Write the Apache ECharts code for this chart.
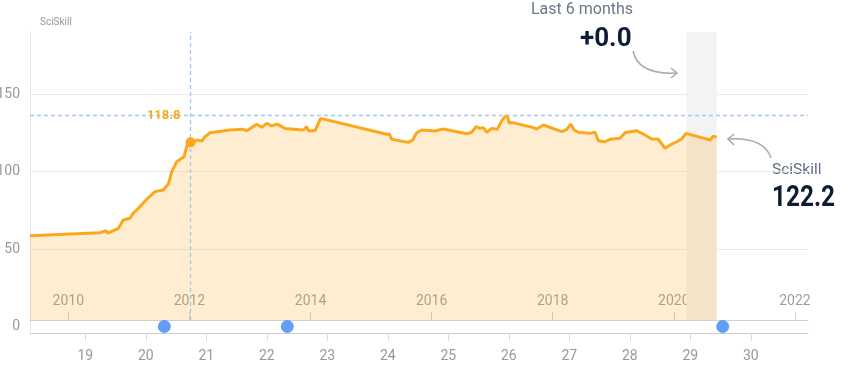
<!DOCTYPE html>
<html>
<head>
<meta charset="utf-8">
<script src="https://cdn.jsdelivr.net/npm/echarts@6/dist/echarts.min.js"></script>
<style>html,body{margin:0;padding:0;background:#fff;}#c{width:867px;height:369px;}</style>
</head>
<body>
<div id="c"></div>
<script>
// ---- data ----
const years = [2009.367, 2010.524, 2010.623, 2010.656, 2010.826, 2010.908, 2011.019, 2011.069, 2011.130, 2011.295, 2011.432, 2011.569, 2011.652, 2011.708, 2011.790, 2011.911, 2011.955, 2011.982, 2012.018, 2012.064, 2012.121, 2012.203, 2012.258, 2012.340, 2012.671, 2012.890, 2012.946, 2013.111, 2013.194, 2013.277, 2013.359, 2013.452, 2013.579, 2013.881, 2013.937, 2013.964, 2014.074, 2014.168, 2015.258, 2015.301, 2015.341, 2015.615, 2015.688, 2015.754, 2015.837, 2016.056, 2016.193, 2016.580, 2016.662, 2016.733, 2016.799, 2016.854, 2016.910, 2016.993, 2017.085, 2017.158, 2017.212, 2017.250, 2017.283, 2017.323, 2017.680, 2017.736, 2017.845, 2018.149, 2018.231, 2018.297, 2018.352, 2018.423, 2018.616, 2018.699, 2018.753, 2018.864, 2018.946, 2019.111, 2019.194, 2019.276, 2019.387, 2019.496, 2019.635, 2019.744, 2019.855, 2019.938, 2020.048, 2020.130, 2020.201, 2020.598, 2020.652, 2020.709];
const sciSkill = [58.6, 60.5, 61.8, 60.3, 63.3, 68.7, 69.8, 73.0, 75.2, 82.1, 87.0, 88.1, 91.9, 99.9, 106.3, 109.5, 116.0, 119.2, 118.8, 119.2, 120.3, 119.7, 122.5, 125.0, 126.8, 127.2, 126.3, 130.4, 128.5, 131.1, 129.4, 130.6, 127.8, 126.8, 128.9, 126.3, 126.3, 134.3, 124.0, 124.2, 120.8, 118.8, 120.3, 125.0, 126.8, 126.1, 127.4, 124.4, 125.3, 128.9, 127.8, 128.3, 125.3, 127.8, 127.2, 132.8, 135.4, 136.0, 131.1, 131.7, 128.3, 127.4, 130.0, 125.7, 127.2, 130.6, 126.8, 125.3, 124.6, 125.3, 119.8, 119.2, 120.8, 121.4, 125.0, 125.7, 126.3, 124.2, 121.0, 120.8, 115.0, 117.1, 119.2, 121.0, 124.6, 120.3, 122.8, 122.2];
const eventAges = [20.306, 22.339, 29.536];
const yearTicks = [2010, 2012, 2014, 2016, 2018, 2020, 2022];
const ageTicks = [19, 20, 21, 22, 23, 24, 25, 26, 27, 28, 29, 30];
const yTickLabels = [0, 50, 100, 150];
const yGridValues = [50, 100, 150];
const highlight = { year: 2012.018, value: 118.8 };
const maxValue = 136.0;
const lastSixMonths = [2020.209, 2020.709];
const lastValue = 122.2;
const changeText = '+0.0';

// ---- chart ----
const chart = echarts.init(document.getElementById('c'), null, { renderer: 'canvas' });
const FONT = 'Roboto';
const yMin = -4.19, yMax = 190;
const lineData = years.map((y, i) => [y, sciSkill[i]]);

chart.setOption({
  animation: false,
  textStyle: { fontFamily: FONT },
  grid: { left: 30, right: 59, top: 32, bottom: 36, containLabel: false, outerBoundsMode: 'none' },
  xAxis: [
    {
      type: 'value', position: 'bottom', offset: -13,
      min: 2009.367, max: 2022.216,
      axisLine: { show: true, lineStyle: { color: '#d0d0d0', width: 1 } },
      axisTick: { show: true, inside: true, length: 8, customValues: yearTicks, lineStyle: { color: '#d8d0c0' } },
      axisLabel: { inside: true, margin: 12, customValues: yearTicks, formatter: v => String(v), color: 'rgba(60,60,60,0.5)', fontSize: 14, fontFamily: FONT },
      splitLine: { show: false }
    },
    {
      type: 'value', position: 'bottom', offset: 0,
      min: 18.086, max: 30.946,
      axisLine: { show: true, lineStyle: { color: '#cccccc', width: 1 } },
      axisTick: { show: true, length: 8, customValues: ageTicks, lineStyle: { color: '#dddddd' } },
      axisLabel: { margin: 16, customValues: ageTicks, formatter: v => String(v), color: '#999999', fontSize: 14, fontFamily: FONT },
      splitLine: { show: false }
    }
  ],
  yAxis: {
    type: 'value', min: yMin, max: yMax,
    name: 'SciSkill', nameLocation: 'end', nameGap: 5,
    nameTextStyle: { align: 'left', color: '#999999', fontSize: 10, padding: [0, 0, 0, 10], fontFamily: FONT },
    axisLine: { show: true, lineStyle: { color: '#e8e8e8' } },
    axisTick: { show: false, customValues: yGridValues },
    axisLabel: { customValues: yTickLabels, color: '#999999', fontSize: 14, margin: 10, fontFamily: FONT },
    splitLine: { show: true, lineStyle: { color: '#ebebeb', width: 1 } }
  },
  series: [
    {
      name: 'band', type: 'line', xAxisIndex: 0, yAxisIndex: 0, data: [], z: 1, silent: true,
      markArea: {
        silent: true,
        itemStyle: { color: '#f3f3f3' },
        data: [[{ coord: [lastSixMonths[0], 4.19] }, { coord: [lastSixMonths[1], yMax] }]]
      }
    },
    {
      name: 'SciSkill', type: 'line', xAxisIndex: 0, yAxisIndex: 0, z: 2,
      data: lineData, showSymbol: false, symbol: 'none', smooth: false,
      lineStyle: { color: '#FBA81C', width: 3 },
      areaStyle: { color: 'rgba(253,168,30,0.29)', origin: 4.19 },
      markLine: {
        silent: true, symbol: 'none',
        lineStyle: { color: '#a8c6f5', type: [4, 3], width: 1.3 },
        label: { show: false },
        data: [
          [{ coord: [highlight.year, 4.19] }, { coord: [highlight.year, yMax] }],
          [{ coord: [2009.367, maxValue] }, { coord: [2022.216, maxValue] }]
        ]
      },
      markPoint: {
        silent: true,
        data: [
          { coord: [highlight.year, highlight.value], symbol: 'circle', symbolSize: 10, itemStyle: { color: '#FBA81C' }, label: { show: false } },
          { coord: [highlight.year, maxValue], symbol: 'circle', symbolSize: 0, label: { show: true, position: 'left', distance: 10, formatter: String(highlight.value), color: '#FBA81C', fontWeight: 'bold', fontSize: 13, fontFamily: FONT } }
        ]
      }
    },
    {
      name: 'events', type: 'scatter', xAxisIndex: 1, yAxisIndex: 0, z: 3,
      data: eventAges.map(a => [a, 0]), symbol: 'circle', symbolSize: 13,
      itemStyle: { color: '#3b86f6' }, clip: false
    }
  ],
  graphic: [
    { type: 'text', x: 531, y: 2, style: { text: 'Last 6 months', fill: '#6b778a', font: '16px ' + FONT } },
    { type: 'text', x: 580, y: 26, style: { text: changeText, fill: '#0e1c38', font: 'bold 26px ' + FONT } },
    { type: 'bezierCurve', shape: { x1: 633, y1: 51, cpx1: 638, cpy1: 75, x2: 677, y2: 73 }, style: { stroke: '#aaaaaa', lineWidth: 1.5, fill: null } },
    { type: 'polyline', shape: { points: [[671, 68], [677, 73], [671, 78]] }, style: { stroke: '#aaaaaa', lineWidth: 1.5, fill: null } },
    { type: 'text', x: 772, y: 162, style: { text: 'SciSkill', fill: '#5f6d88', font: '15.5px ' + FONT } },
    { type: 'text', x: 772, y: 184, scaleX: 0.84, style: { text: String(lastValue), fill: '#0e1c38', font: 'bold 29px ' + FONT } },
    { type: 'bezierCurve', shape: { x1: 771, y1: 158, cpx1: 764, cpy1: 137, x2: 728, y2: 139 }, style: { stroke: '#aaaaaa', lineWidth: 1.5, fill: null } },
    { type: 'polyline', shape: { points: [[734, 134], [728, 139], [734, 145]] }, style: { stroke: '#aaaaaa', lineWidth: 1.5, fill: null } }
  ]
});
</script>
</body>
</html>
